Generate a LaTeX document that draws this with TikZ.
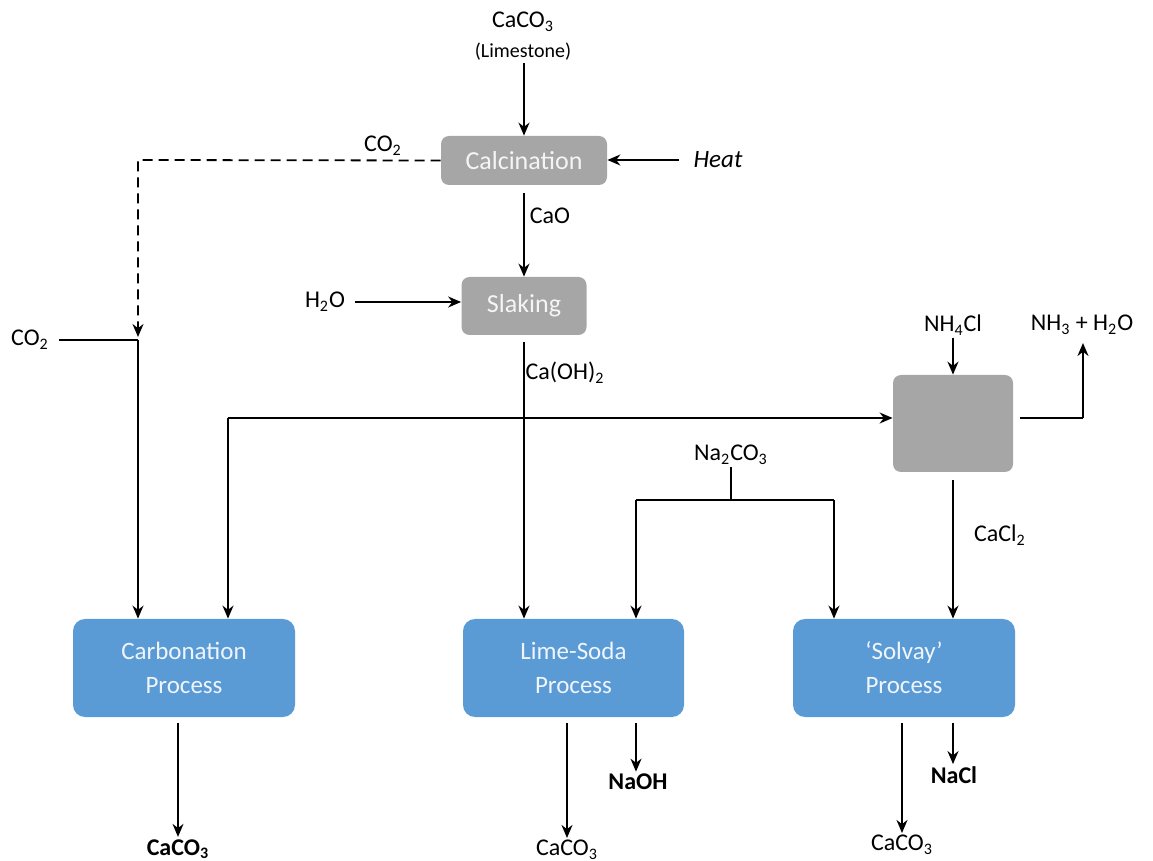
\documentclass[tikz,border=0pt]{standalone}
\usepackage{fontspec}
\setmainfont{Carlito}
\usetikzlibrary{arrows.meta}
\definecolor{boxgray}{HTML}{A6A6A6}
\definecolor{boxblue}{HTML}{5B9BD5}
\begin{document}
\begin{tikzpicture}[x=0.5pt,y=-0.5pt,
  ar/.style={line width=0.9pt,-{Stealth[length=6.5pt,width=5.5pt]}},
  ln/.style={line width=0.9pt},
  graybox/.style={fill=boxgray,rounded corners=4pt,draw=none,text=white!92!gray,font=\fontsize{13}{15}\selectfont,inner sep=0pt},
  bluebox/.style={fill=boxblue,rounded corners=6pt,draw=none,text=white!90!boxblue,font=\fontsize{12.5}{17}\selectfont,align=center,inner sep=0pt},
  lbl/.style={font=\fontsize{12}{14}\selectfont,inner sep=1pt},
  blbl/.style={font=\fontsize{12}{14}\selectfont\bfseries,inner sep=1pt}]
\useasboundingbox (0,0) rectangle (1153,861);
% boxes
\node[graybox,minimum width=83pt,minimum height=24.5pt] (calc) at (524,160.5) {Calcination};
\node[graybox,minimum width=62.5pt,minimum height=29pt] (slak) at (524,306) {Slaking};
\node[graybox,minimum width=60pt,minimum height=48.5pt] (react) at (953,423.5) {};
\node[bluebox,minimum width=111pt,minimum height=49pt] (carb) at (184,668) {Carbonation\\Process};
\node[bluebox,minimum width=110.5pt,minimum height=49pt] (lime) at (573.5,668) {Lime-Soda\\Process};
\node[bluebox,minimum width=111pt,minimum height=49pt] (solv) at (904,668) {‘Solvay’\\Process};
% labels
\node[lbl] (caco3top) at (523,22) {CaCO\textsubscript{3}};
\node[font=\fontsize{10}{12}\selectfont,inner sep=1pt] (limest) at (523,52) {(Limestone)};
\node[lbl,font=\fontsize{12.5}{14}\selectfont\itshape] (heat) at (718,160) {Heat};
\node[lbl] (co2a) at (383,146) {CO\textsubscript{2}};
\node[lbl] (cao) at (550,216) {CaO};
\node[lbl] (h2o) at (325,302) {H\textsubscript{2}O};
\node[lbl] (co2b) at (30,340) {CO\textsubscript{2}};
\node[lbl] (caoh) at (565,373) {Ca(OH)\textsubscript{2}};
\node[lbl] (nh4cl) at (953,325) {NH\textsubscript{4}Cl};
\node[lbl] (nh3) at (1082,325) {NH\textsubscript{3} + H\textsubscript{2}O};
\node[lbl] (na2co3) at (731,455) {Na\textsubscript{2}CO\textsubscript{3}};
\node[lbl] (cacl2) at (1000,535) {CaCl\textsubscript{2}};
\node[blbl] (out1) at (178,849) {CaCO\textsubscript{3}};
\node[lbl] (out2) at (567,850) {CaCO\textsubscript{3}};
\node[blbl] (naoh) at (638,782) {NaOH};
\node[lbl] (out3) at (902,845) {CaCO\textsubscript{3}};
\node[blbl] (nacl) at (954,775) {NaCl};
% coordinates
\coordinate (co2turn) at (138,160);
\coordinate (co2join) at (138,340);
\coordinate (splitL) at (228,418);
\coordinate (nh3turn) at (1083,418);
\coordinate (naj) at (731,500);
\coordinate (najL) at (636,500);
\coordinate (najR) at (834,500);
\coordinate (c1) at (178,723);
\coordinate (c2) at (567,723);
\coordinate (c3) at (636,723);
\coordinate (c4) at (902,723);
\coordinate (c5) at (953,723);
\coordinate (caotop) at (524,193);
\coordinate (caohtop) at (524,342);
\coordinate (cacltop) at (953,480);
% connectors
\draw[ar] (calc.north |- limest.south) -- (calc.north);
\draw[ar] ([xshift=-6pt]heat.west) -- (calc.east |- heat.west);
\draw[ln,dashed,dash pattern=on 5pt off 3pt,-{Stealth[length=6.5pt,width=5.5pt]}] (calc.west) -- (co2turn) -- (138,337);
\draw[ar] (caotop) -- (slak.north);
\draw[ar] ([xshift=4pt]h2o.east) -- (slak.west |- h2o.east);
\draw[ln] ([xshift=4pt]co2b.east) -- (co2join);
\draw[ar] (co2join) -- (co2join |- carb.north);
\draw[ar] (caohtop) -- (caohtop |- lime.north);
\draw[ar] (splitL) -- (react.west |- splitL);
\draw[ar] (splitL) -- (splitL |- carb.north);
\draw[ar] (nh4cl.south) -- (react.north);
\draw[ln] ([xshift=3.5pt]react.east |- nh3turn) -- (nh3turn);
\draw[ar] (nh3turn) -- (1083,343);
\draw[ar] (cacltop) -- (cacltop |- solv.north);
\draw[ln] (naj |- na2co3.south) -- (naj);
\draw[ln] (najL) -- (najR);
\draw[ar] (najL) -- (najL |- lime.north);
\draw[ar] (najR) -- (najR |- solv.north);
\draw[ar] (c1) -- (c1 |- out1.north);
\draw[ar] (c2) -- (c2 |- out2.north);
\draw[ar] (c3) -- (c3 |- naoh.north);
\draw[ar] (c4) -- (c4 |- out3.north);
\draw[ar] (c5) -- (c5 |- nacl.north);
\end{tikzpicture}
\end{document}
